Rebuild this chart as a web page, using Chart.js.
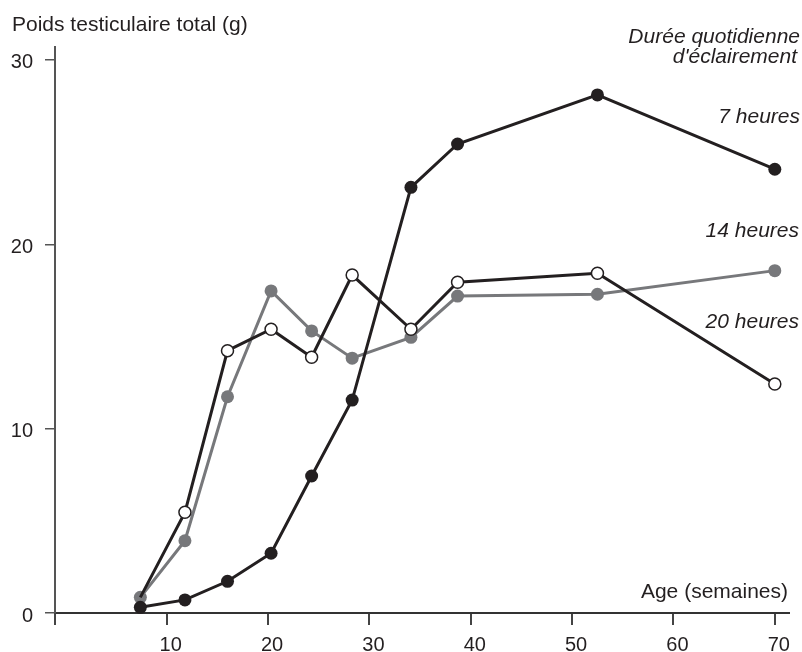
<!DOCTYPE html>
<html lang="fr">
<head>
<meta charset="utf-8">
<title>Poids testiculaire total</title>
<script src="https://cdn.jsdelivr.net/npm/chart.js@4.4.1/dist/chart.umd.min.js"></script>
<style>
  html, body { margin: 0; padding: 0; background: #fff; }
</style>
</head>
<body>
<canvas id="poids" width="802" height="652"></canvas>
<script>
// valeurs
const ages = [7.4, 11.8, 16.0, 20.3, 24.3, 28.3, 34.1, 38.7, 52.5, 70.0];
const heures7 = [0.31, 0.71, 1.72, 3.24, 7.43, 11.55, 23.09, 25.44, 28.10, 24.07];
const heures14 = [0.85, 3.92, 11.73, 17.47, 15.30, 13.82, 14.95, 17.19, 17.29, 18.57];
const heures20 = [0.85, 5.46, 14.23, 15.39, 13.87, 18.33, 15.39, 17.94, 18.43, 12.42];

const xTicks = [10, 20, 30, 40, 50, 60, 70];
const yTicks = [0, 10, 20, 30];
const xMin = -1.02, xMax = 71.4;
const yMin = 0, yMax = 30.7;

const ink = "#231f20";
const grey = "#77787b";
const font = '"Liberation Sans", Arial, sans-serif';

const pts = vals => vals.map((v, i) => ({ x: ages[i], y: v }));

// textes : titre des axes et noms des courbes
const textes = {
  id: "textes",
  afterDraw(chart) {
    const c = chart.ctx;
    c.save();
    c.fillStyle = ink;
    c.textBaseline = "alphabetic";
    c.font = "21px " + font;
    c.textAlign = "left";
    c.fillText("Poids testiculaire total (g)", 12, 31);
    c.textAlign = "right";
    c.fillText("Age (semaines)", 788, 598);
    c.font = "italic 21px " + font;
    c.fillText("Durée quotidienne", 800, 43);
    c.fillText("d'éclairement", 797, 63);
    c.fillText("7 heures", 800, 123);
    c.fillText("14 heures", 799, 237);
    c.fillText("20 heures", 799, 328);
    c.restore();
  }
};

new Chart(document.getElementById("poids"), {
  type: "line",
  data: {
    datasets: [
      {
        label: "7 heures",
        data: pts(heures7),
        borderColor: ink,
        borderWidth: 3,
        pointRadius: 6.5,
        pointBackgroundColor: ink,
        pointBorderColor: ink,
        pointBorderWidth: 0,
        tension: 0,
        clip: false,
        order: 0
      },
      {
        label: "20 heures",
        data: pts(heures20),
        borderColor: ink,
        borderWidth: 3,
        pointRadius: [0, 6, 6, 6, 6, 6, 6, 6, 6, 6],
        pointBackgroundColor: "#fff",
        pointBorderColor: ink,
        pointBorderWidth: 1.5,
        tension: 0,
        clip: false,
        order: 1
      },
      {
        label: "14 heures",
        data: pts(heures14),
        borderColor: grey,
        borderWidth: 3,
        pointRadius: 6.5,
        pointBackgroundColor: grey,
        pointBorderColor: grey,
        pointBorderWidth: 0,
        tension: 0,
        clip: false,
        order: 2
      }
    ]
  },
  options: {
    responsive: false,
    animation: false,
    layout: { padding: { left: 0, right: 13, top: 47, bottom: 0 } },
    plugins: {
      legend: { display: false },
      title: { display: false },
      tooltip: { enabled: false }
    },
    scales: {
      x: {
        type: "linear",
        position: "bottom",
        min: xMin,
        max: xMax,
        afterBuildTicks: s => { s.ticks = [xMin, ...xTicks].map(v => ({ value: v })); },
        afterFit: s => { s.height = 39; },
        border: { display: true, color: "#333", width: 2 },
        grid: { drawOnChartArea: false, drawTicks: true, tickLength: 12, color: "#444", lineWidth: 2 },
        ticks: {
          padding: 8,
          labelOffset: 4,
          maxRotation: 0,
          autoSkip: false,
          color: ink,
          font: { family: font, size: 20 },
          callback: v => (v === xMin ? "" : v)
        }
      },
      y: {
        type: "linear",
        position: "left",
        min: yMin,
        max: yMax,
        afterBuildTicks: s => { s.ticks = yTicks.map(v => ({ value: v })); },
        afterFit: s => { s.width = 55; },
        border: { display: true, color: "#555", width: 2 },
        grid: { drawOnChartArea: false, drawTicks: true, tickLength: 10, color: "#555", lineWidth: 1.5 },
        ticks: {
          padding: 12,
          labelOffset: 3,
          color: ink,
          font: { family: font, size: 20 }
        }
      }
    }
  },
  plugins: [textes]
});
</script>
</body>
</html>
